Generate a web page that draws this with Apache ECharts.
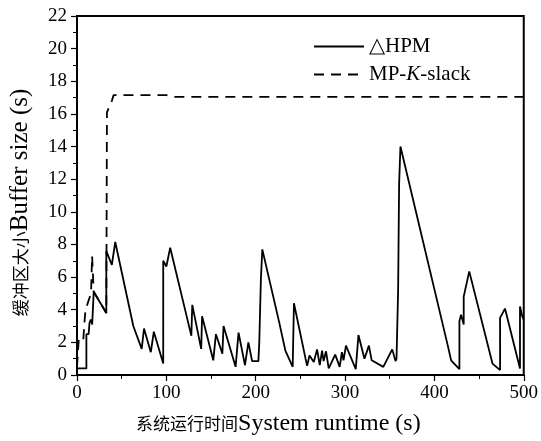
<!DOCTYPE html>
<html><head><meta charset="utf-8">
<script src="https://cdn.jsdelivr.net/npm/echarts@6/dist/echarts.min.js"></script>
<style>html,body{margin:0;padding:0;background:#fff}#c{width:541px;height:441px}</style>
</head><body><div id="c"></div>
<script>
const seriesNames = ['△HPM', 'MP-K-slack'];
const hpmData = [[0,0.4],[10.5,0.4],[10.5,2.5],[13,2.5],[14,3.2],[15.5,3.4],[17,3.1],[18.7,5.1],[32.8,3.8],[32.8,7.6],[35,7.5],[39,6.75],[42.8,8.15],[63,3.0],[72.4,1.6],[75,2.85],[82.6,1.4],[86,2.65],[96.5,0.7],[96.5,7.0],[100,6.65],[104.3,7.8],[128,2.4],[129,4.3],[139,1.6],[140,3.6],[152.5,0.9],[155.5,2.5],[162.7,1.3],[164,3.0],[177.5,0.5],[180.8,2.6],[188,0.6],[191.8,2.0],[196,0.85],[203,0.85],[204,2.0],[205.8,5.85],[207.4,7.7],[226,3.3],[233.2,1.5],[241.4,0.5],[242.8,4.4],[255.8,1.0],[257.6,0.56],[260.2,1.2],[265,0.8],[268.7,1.57],[271.7,0.6],[274.3,1.5],[276,0.85],[278.7,1.45],[281.7,0.4],[289,1.25],[294,0.5],[296.5,1.4],[298.3,0.9],[301,1.8],[312,0.36],[315,2.45],[321.7,1.0],[326.7,1.8],[329.8,0.9],[342.8,0.5],[352.8,1.57],[356.5,0.85],[357.6,1.0],[359.4,5.2],[360.5,11.7],[362,14.0],[415,1.8],[418.7,0.9],[428,0.36],[428,3.3],[429.8,3.7],[432.8,3.1],[432.8,4.8],[439,6.35],[465,0.7],[473.5,0.3],[473.5,3.5],[479,4.07],[495.8,0.4],[495.8,4.2],[498.3,3.6],[500,3.4]];
const mpkData = [[0,0.5],[2,2.2],[7,2.1],[8.3,3.2],[9.5,4.0],[15.7,5.0],[16.9,7.3],[18.7,5.1],[32.8,3.8],[33.5,16.1],[39,16.8],[41,17.15],[100,17.15],[110,17.05],[500,17.05]];
const xTicks = [0,100,200,300,400,500];
const yTicks = [0,2,4,6,8,10,12,14,16,18,20,22];

const serif = '"Liberation Serif","Times New Roman",serif';
const cjk = '"Noto Sans CJK SC",sans-serif';
const chart = echarts.init(document.getElementById('c'));
chart.setOption({
  animation:false,
  backgroundColor:'#fff',
  grid:{left:76,right:14,top:16,bottom:61,show:true,borderColor:'#000',borderWidth:2},
  legend:{
    orient:'vertical', left:308, top:31, itemWidth:50, itemHeight:14, itemGap:7,
    data:seriesNames,
    itemStyle:{opacity:0},
    formatter:function(n){ return n==='MP-K-slack' ? '{a|MP-}{b|K}{a|-slack}' : '{a|'+n+'}'; },
    textStyle:{fontFamily:serif,fontSize:21,color:'#000',lineHeight:21,
      rich:{a:{fontFamily:serif,fontSize:21,color:'#000',lineHeight:21},b:{fontFamily:serif,fontSize:21,fontStyle:'italic',color:'#000',lineHeight:21}}}
  },
  xAxis:{type:'value',min:xTicks[0],max:xTicks[xTicks.length-1],interval:100,
    name:'{c|系统运行时间}{l|System runtime (s)}',nameLocation:'middle',nameGap:37,
    nameTextStyle:{padding:[0,44,0,0],rich:{c:{fontFamily:cjk,fontSize:17,color:'#000'},l:{fontFamily:serif,fontSize:24,color:'#000'}}},
    axisLine:{lineStyle:{color:'#000',width:2}},
    axisTick:{length:6,lineStyle:{color:'#000',width:1.2}},
    minorTick:{show:true,splitNumber:2,length:4,lineStyle:{color:'#000',width:1}},
    splitLine:{show:false},
    axisLabel:{fontFamily:serif,fontSize:19,color:'#000',margin:9}},
  yAxis:{type:'value',min:yTicks[0],max:yTicks[yTicks.length-1],interval:2,
    name:'{c|缓冲区大小}{l|Buffer size (s)}',nameLocation:'middle',nameGap:44,
    nameTextStyle:{padding:[0,14,0,0],rich:{c:{fontFamily:cjk,fontSize:17,color:'#000'},l:{fontFamily:serif,fontSize:25,color:'#000'}}},
    axisLine:{lineStyle:{color:'#000',width:2}},
    axisTick:{length:6,lineStyle:{color:'#000',width:1.2}},
    minorTick:{show:true,splitNumber:2,length:4,lineStyle:{color:'#000',width:1}},
    splitLine:{show:false},
    axisLabel:{fontFamily:serif,fontSize:19,color:'#000',margin:10}},
  series:[
    {name:seriesNames[0],type:'line',data:hpmData,symbol:'none',lineStyle:{color:'#000',width:1.8},itemStyle:{color:'#000'}},
    {name:seriesNames[1],type:'line',data:mpkData,symbol:'none',lineStyle:{color:'#000',width:1.8,type:[10,7]},itemStyle:{color:'#000'}}
  ]
});
</script></body></html>
